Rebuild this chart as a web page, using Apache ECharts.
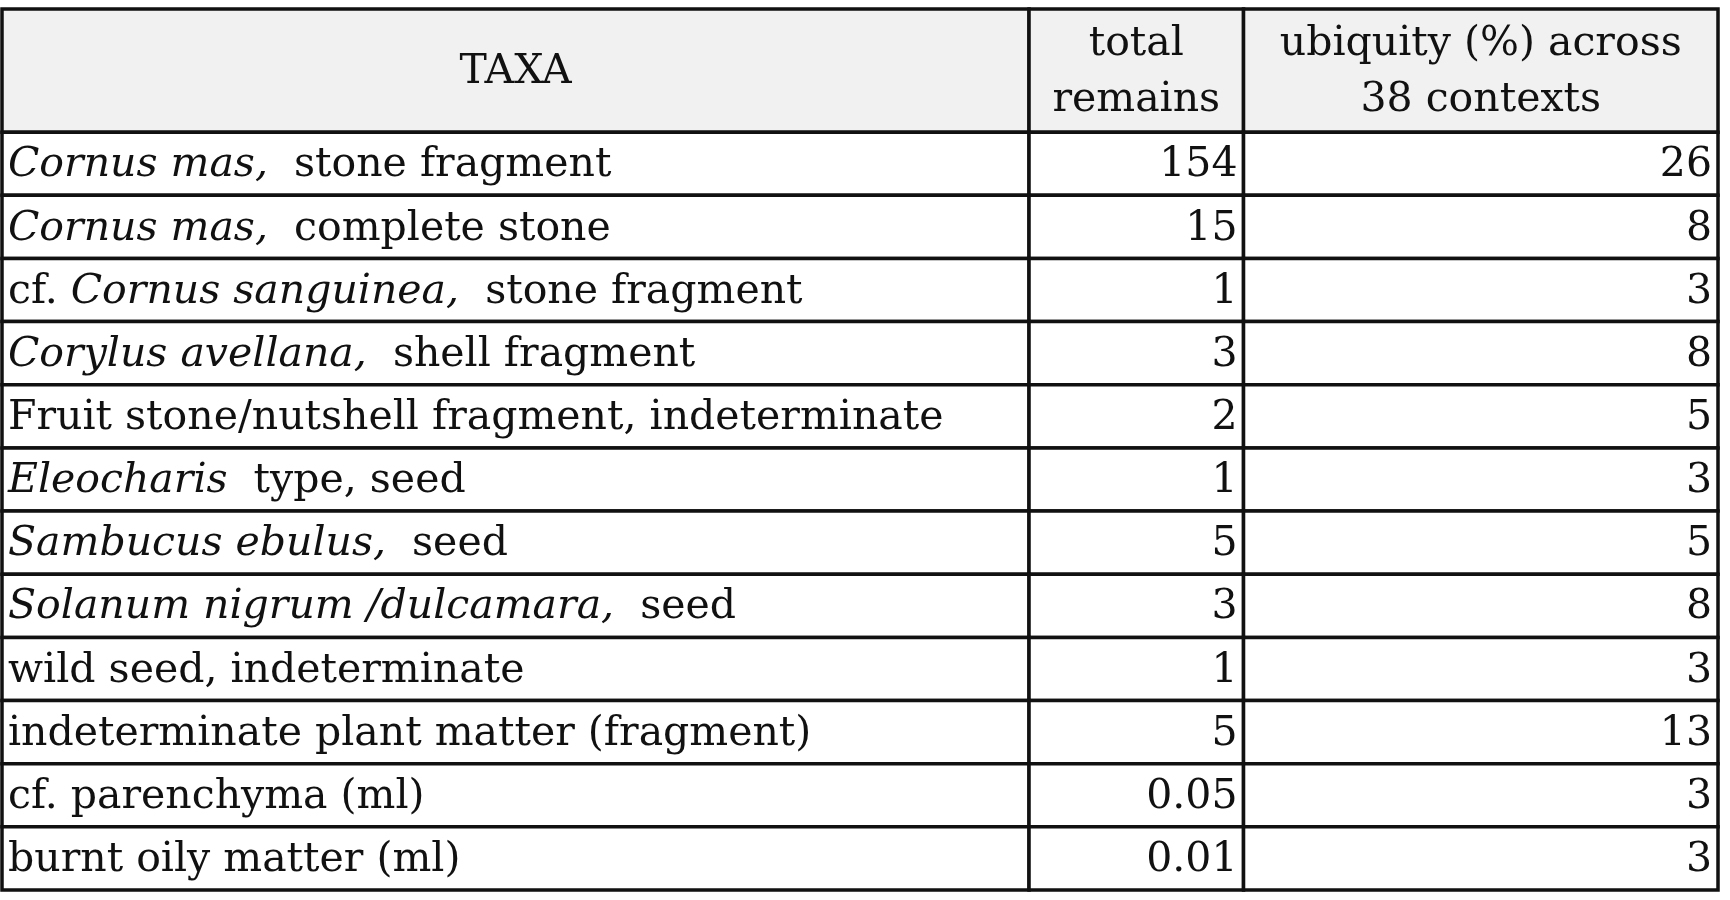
<!DOCTYPE html><html><head><meta charset="utf-8">
<script src="https://cdn.jsdelivr.net/npm/echarts@6/dist/echarts.min.js"></script>
<style>html,body{margin:0;background:#fff}#c{width:1730px;height:900px}</style></head><body><div id="c"></div>
<script>
const headers = ['TAXA', 'total\nremains', 'ubiquity (%) across\n38 contexts'];
const taxaPre = ['', '', 'cf. ', '', '', '', '', '', '', '', '', ''];
const taxaItalic = ['Cornus mas,', 'Cornus mas,', 'Cornus sanguinea,', 'Corylus avellana,', '', 'Eleocharis', 'Sambucus ebulus,', 'Solanum nigrum /dulcamara,', '', '', '', ''];
const taxaPost = ['  stone fragment', '  complete stone', '  stone fragment', '  shell fragment', 'Fruit stone/nutshell fragment, indeterminate', '  type, seed', '  seed', '  seed', 'wild seed, indeterminate', 'indeterminate plant matter (fragment)', 'cf. parenchyma (ml)', 'burnt oily matter (ml)'];
const totalRemains = ['154', '15', '1', '3', '2', '1', '5', '3', '1', '5', '0.05', '0.01'];
const ubiquity = ['26', '8', '3', '8', '5', '3', '5', '8', '3', '13', '3', '3'];

const colEdges = [0, 0.5985, 0.7235, 1];
const headH = 1.95;
const nRows = taxaPost.length;
const FONT = 'DejaVu Serif';
const FS = 41;

const chart = echarts.init(document.getElementById('c'));
const data = [{value:[-1]}].concat(taxaPost.map((_, i) => ({value:[i]})));

function renderItem(params, api) {
  const r = api.value(0);
  const y0 = r < 0 ? 0 : headH + r;
  const y1 = r < 0 ? headH : headH + r + 1;
  const children = [];
  for (let c = 0; c < 3; c++) {
    const p0 = api.coord([colEdges[c], y0]);
    const p1 = api.coord([colEdges[c + 1], y1]);
    children.push({type:'rect', shape:{x:p0[0], y:p0[1], width:p1[0]-p0[0], height:p1[1]-p0[1]},
      style:{fill: r < 0 ? '#f1f1f1' : '#fff', stroke:'#111', lineWidth:3.5}});
    let text, x, align, rich = {};
    if (r < 0) {
      text = headers[c]; x = (p0[0]+p1[0])/2; align = 'center';
    } else if (c === 0) {
      text = taxaPre[r] + (taxaItalic[r] ? '{i|' + taxaItalic[r] + '}' : '') + taxaPost[r];
      x = p0[0] + 6; align = 'left';
      rich = {i:{fontStyle:'italic', fontFamily:FONT, fontSize:FS, fill:'#111'}};
    } else {
      text = c === 1 ? totalRemains[r] : ubiquity[r]; x = p1[0] - 6; align = 'right';
    }
    children.push({type:'text', style:{x:x, y:(p0[1]+p1[1])/2 + 2, text:text, align:align, verticalAlign:'middle',
      fontFamily:FONT, fontSize:FS, fill:'#111', lineHeight:56, rich:rich}});
  }
  return {type:'group', children:children};
}

chart.setOption({
  animation:false,
  grid:{left:2, right:12, top:9, bottom:10},
  xAxis:{type:'value', min:0, max:1, show:false},
  yAxis:{type:'value', min:0, max:headH + nRows, inverse:true, show:false},
  series:[{type:'custom', renderItem:renderItem, data:data, silent:true}]
});
</script></body></html>
